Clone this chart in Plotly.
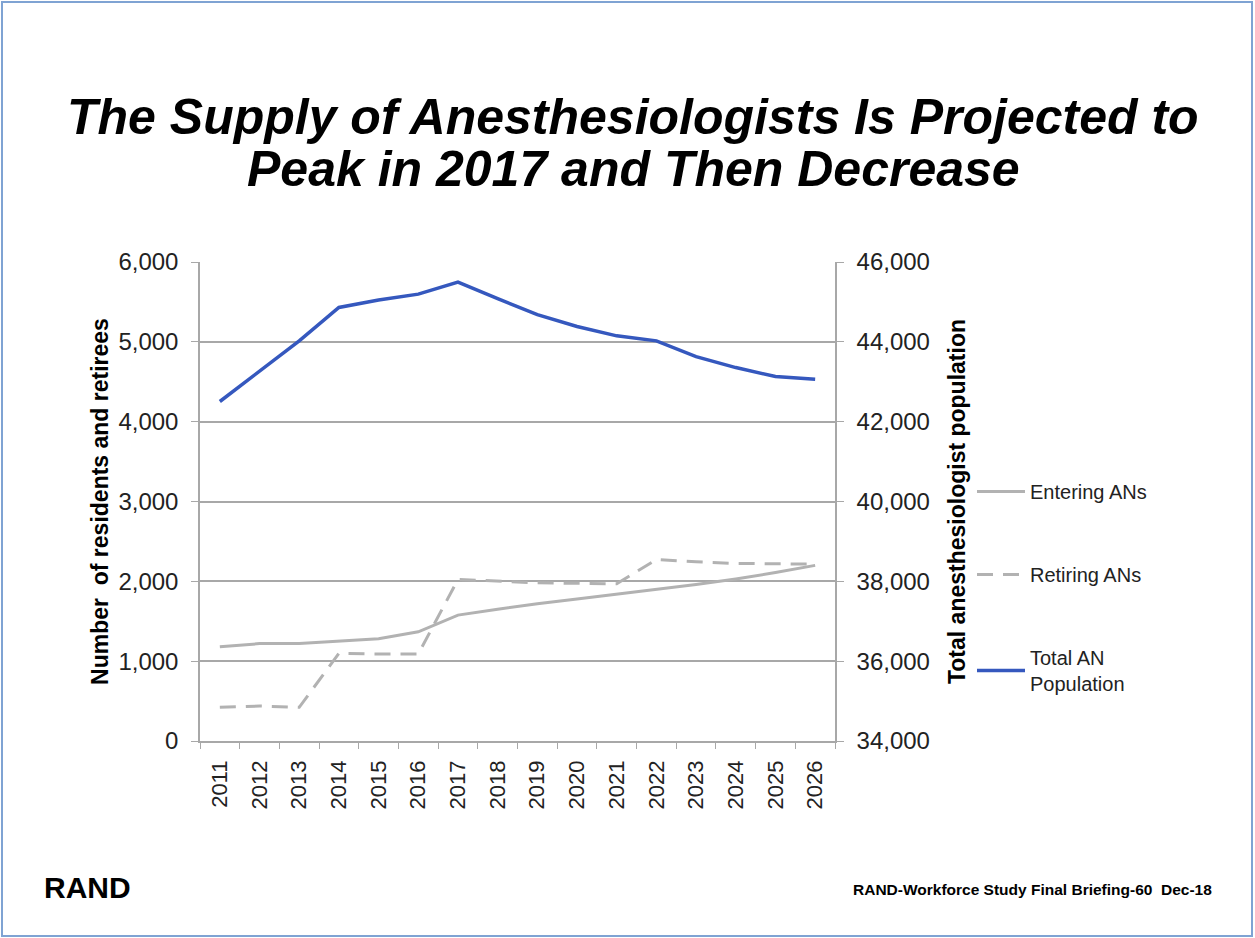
import plotly.graph_objects as go

# data
years = [str(y) for y in range(2011, 2027)]
entering_ans = [1180, 1220, 1222, 1248, 1280, 1368, 1577, 1650, 1720, 1780,
                1840, 1900, 1960, 2030, 2110, 2200]
retiring_ans = [422, 438, 422, 1098, 1090, 1090, 2024, 2006, 1981, 1975,
                1969, 2274, 2244, 2224, 2218, 2215]
total_an_pop = [42505, 43260, 44025, 44860, 45050, 45195, 45496, 45080, 44680,
                44385, 44150, 44025, 43630, 43355, 43130, 43060]

left_ticks = [0, 1000, 2000, 3000, 4000, 5000, 6000]
right_ticks = [34000, 36000, 38000, 40000, 42000, 44000, 46000]

title_lines = ["The Supply of Anesthesiologists Is Projected to",
               "Peak in 2017 and Then Decrease"]

W, H = 1255, 938
L, R, T, B = 200, 835, 262, 741   # plot area in pixels


def px_x(px):
    return (px - L) / (R - L)


def px_y(py):
    return (B - py) / (B - T)


FONT = "Liberation Sans, Arial, sans-serif"
GRID = "#a8a8a8"

fig = go.Figure()
fig.add_trace(go.Scatter(x=years, y=entering_ans, name="Entering ANs",
                         mode="lines", legendgroup="a",
                         line=dict(color="#b2b2b2", width=3)))
fig.add_trace(go.Scatter(x=years, y=retiring_ans, name="Retiring ANs",
                         mode="lines", legendgroup="b",
                         line=dict(color="#b2b2b2", width=3, dash="16px,10px")))
fig.add_trace(go.Scatter(x=years, y=total_an_pop, name="Total AN<br>Population",
                         mode="lines", legendgroup="c", yaxis="y2",
                         line=dict(color="#3558be", width=3.5)))

fig.update_layout(
    width=W, height=H,
    margin=dict(l=L, r=W - R, t=T, b=H - B, pad=0),
    paper_bgcolor="white", plot_bgcolor="white",
    font=dict(family=FONT, size=20, color="#222222"),
    xaxis=dict(type="category", range=[-0.5, len(years) - 0.5],
               tickson="boundaries", ticks="outside", ticklen=6,
               tickcolor=GRID, showline=True, linecolor=GRID, linewidth=1.5,
               tickangle=-90, showgrid=False, tickfont=dict(size=22),
               ticklabelstandoff=9),
    yaxis=dict(range=[0, 6000], tickvals=left_ticks, tickformat=",",
               ticks="outside", ticklen=7, tickcolor=GRID, showline=True,
               linecolor=GRID, linewidth=1.5, gridcolor=GRID, gridwidth=1.5,
               zeroline=False, tickfont=dict(size=24), ticklabelstandoff=8,
               title=dict(text="<b>Number  of residents and retirees</b>", standoff=3,
                          font=dict(size=23, color="black"))),
    yaxis2=dict(range=[34000, 46000], tickvals=right_ticks, tickformat=",",
                overlaying="y", side="right", ticks="outside", ticklen=7,
                tickcolor=GRID, showline=True, linecolor=GRID, linewidth=1.5,
                showgrid=False, zeroline=False, tickfont=dict(size=24),
                ticklabelstandoff=8,
                title=dict(text="<b>Total anesthesiologist population</b>", standoff=20,
                           font=dict(size=23, color="black"))),
    legend=dict(x=px_x(972), xanchor="left", y=px_y(472), yanchor="top",
                traceorder="grouped", tracegroupgap=54, itemwidth=48,
                font=dict(size=20, color="#222222"), bgcolor="rgba(0,0,0,0)"),
    showlegend=True,
)

# two-line slide title
for i, line in enumerate(title_lines):
    fig.add_annotation(text=line, xref="paper", yref="paper",
                       x=px_x(633), y=px_y(117 + 52 * i), xanchor="center", yanchor="middle",
                       showarrow=False,
                       font=dict(family=FONT, size=50, color="black",
                                 weight="bold", style="italic"))

fig.add_annotation(text="<b>RAND</b>", xref="paper", yref="paper",
                   x=px_x(42), y=px_y(887), xanchor="left", yanchor="middle",
                   showarrow=False,
                   font=dict(family="Liberation Sans Narrow, Arial Narrow, Liberation Sans",
                             size=30, color="black"))
fig.add_annotation(text="<b>RAND-Workforce Study Final Briefing-60  Dec-18</b>",
                   xref="paper", yref="paper",
                   x=px_x(1214), y=px_y(889), xanchor="right", yanchor="middle",
                   showarrow=False,
                   font=dict(family="Liberation Sans Narrow, Arial Narrow, Liberation Sans",
                             size=15.5, color="black"))

# slide frame
fig.add_shape(type="rect", xref="paper", yref="paper",
              x0=px_x(2), x1=px_x(1252), y0=px_y(936), y1=px_y(2),
              line=dict(color="#7fa3d3", width=2), layer="below")

fig.write_html("out.html", config={"displayModeBar": False},
               post_script="document.body.style.margin='0';")
